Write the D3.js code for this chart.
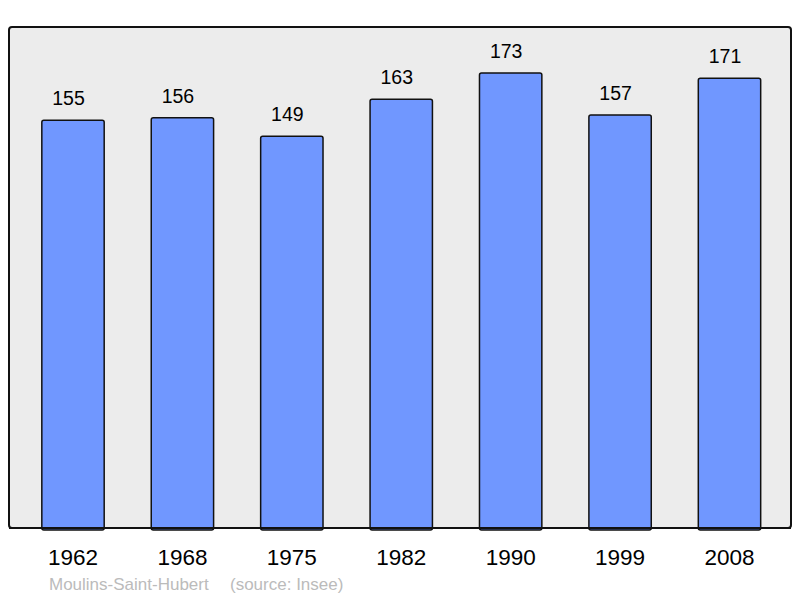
<!DOCTYPE html>
<html><head><meta charset="utf-8">
<script src="https://cdn.jsdelivr.net/npm/d3@7"></script>
<style>body{margin:0;background:#fff}svg{display:block}text{font-family:"Liberation Sans",Arial,sans-serif}</style>
</head><body>
<svg id="c" width="800" height="598"></svg>
<script>
const years = ["1962","1968","1975","1982","1990","1999","2008"];
const population = [155,156,149,163,173,157,171];
const commune = "Moulins-Saint-Hubert";
const source = "(source: Insee)";

const svg = d3.select("#c");
const frame = {x0:9, y0:27, x1:791, y1:528};

svg.append("rect").attr("x",frame.x0).attr("y",frame.y0)
  .attr("width",frame.x1-frame.x0).attr("height",frame.y1-frame.y0)
  .attr("rx",3).attr("fill","#ececec").attr("stroke","#111").attr("stroke-width",2);

const x = d3.scaleBand().domain(years).range([18.3,784.2]).paddingInner(0.43).paddingOuter(0.215);
const y = d3.scaleLinear().domain([0,190.5]).range([frame.y1,frame.y0]);

const data = years.map((yr,i)=>({yr, v:population[i]}));

svg.append("g").selectAll("rect").data(data).join("rect")
  .attr("x",d=>x(d.yr)).attr("y",d=>y(d.v))
  .attr("width",x.bandwidth()).attr("height",d=>y(0)-y(d.v)+2)
  .attr("rx",2).attr("fill","#7097ff").attr("stroke","#111").attr("stroke-width",1.5);

svg.append("line").attr("x1",frame.x0).attr("x2",frame.x1).attr("y1",frame.y1).attr("y2",frame.y1)
  .attr("stroke","#111").attr("stroke-width",2);

svg.append("g").selectAll("text").data(data).join("text")
  .attr("x",d=>x(d.yr)+x.bandwidth()/2-4.5).attr("y",d=>y(d.v)-15)
  .attr("text-anchor","middle").attr("font-size",19.5).attr("fill","#000").text(d=>d.v);

const xAxis = svg.append("g").attr("transform",`translate(0,${frame.y1})`)
  .call(d3.axisBottom(x).tickSize(0).tickPadding(0));
xAxis.select(".domain").remove();
xAxis.selectAll("text").attr("dy",null).attr("y",37).attr("font-size",22.5).attr("fill","#000")
  .attr("font-family","'Liberation Sans',Arial,sans-serif");

svg.append("text").attr("x",49).attr("y",590).attr("font-size",17).attr("fill","#bbb").text(commune);
svg.append("text").attr("x",230).attr("y",590).attr("font-size",17).attr("fill","#bbb").text(source);
</script>
</body></html>
